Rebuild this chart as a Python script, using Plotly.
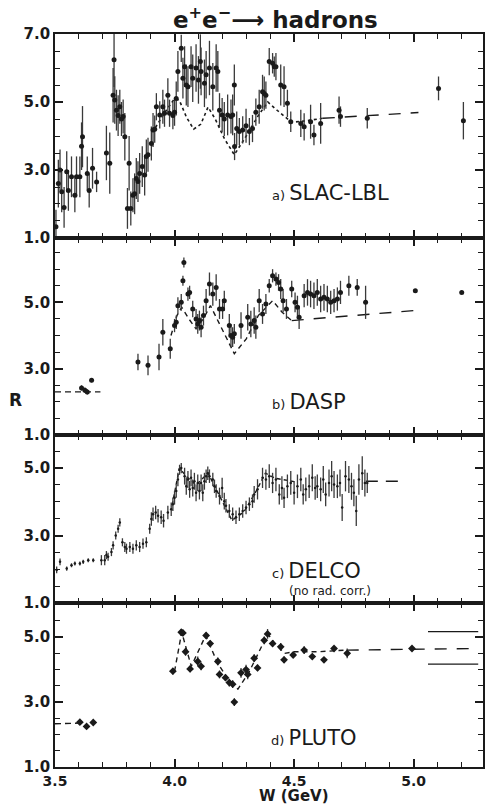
import plotly.graph_objects as go

# ---------------- a) SLAC-LBL ----------------
W_a = [3.504, 3.514, 3.521, 3.528, 3.538, 3.549, 3.556, 3.569, 3.583, 3.590,
       3.604, 3.611, 3.615, 3.635, 3.643, 3.657, 3.674, 3.715, 3.729, 3.743,
       3.747, 3.750, 3.757, 3.764, 3.771, 3.778, 3.785, 3.792, 3.803, 3.810,
       3.817, 3.826, 3.833, 3.840, 3.847, 3.854, 3.865, 3.875, 3.882, 3.889,
       3.903, 3.910, 3.917, 3.924, 3.938, 3.951, 3.958, 3.972, 3.979, 3.993,
       4.000, 4.007, 4.014, 4.028, 4.035, 4.042, 4.049, 4.056, 4.069, 4.076,
       4.090, 4.100, 4.108, 4.111, 4.125, 4.132, 4.146, 4.160, 4.174, 4.181,
       4.188, 4.199, 4.208, 4.222, 4.236, 4.243, 4.250, 4.251, 4.260, 4.271,
       4.285, 4.299, 4.313, 4.326, 4.340, 4.354, 4.368, 4.375, 4.382, 4.396,
       4.410, 4.417, 4.424, 4.444, 4.458, 4.472, 4.486, 4.528, 4.542, 4.569,
       4.583, 4.611, 4.688, 4.694, 4.806, 5.104, 5.208]
R_a = [1.33, 2.60, 3.00, 2.36, 1.90, 2.95, 2.40, 2.80, 2.26, 2.80,
       2.80, 3.70, 3.98, 2.90, 2.40, 3.05, 2.65, 3.50, 3.20, 5.20,
       6.24, 5.06, 4.76, 4.60, 4.86, 4.50, 4.57, 3.98, 1.87, 3.20,
       1.87, 2.26, 2.30, 2.75, 2.66, 2.90, 3.10, 2.85, 3.40, 3.45,
       3.78, 4.18, 4.20, 4.86, 4.62, 4.86, 4.67, 5.20, 4.67, 4.60,
       4.70, 5.10, 5.90, 6.58, 5.70, 6.04, 5.50, 5.45, 6.04, 5.70,
       6.00, 5.65, 6.19, 5.90, 5.55, 5.80, 6.00, 5.45, 6.00, 5.90,
       4.76, 4.62, 4.50, 4.62, 4.57, 4.62, 5.50, 3.69, 4.22, 4.13,
       4.18, 4.30, 4.13, 4.22, 4.70, 4.86, 5.30, 5.25, 5.20, 6.19,
       6.14, 6.04, 6.04, 5.50, 5.45, 4.96, 4.42, 4.37, 4.27, 4.42,
       4.03, 4.37, 4.76, 4.57, 4.52, 5.40, 4.45]
dR_a = [0.5, 0.7, 0.6, 0.6, 0.6, 0.6, 0.6, 0.6, 0.5, 0.6,
        0.6, 0.7, 0.9, 0.5, 0.5, 0.6, 0.3, 0.8, 0.9, 0.8,
        0.8, 0.7, 0.6, 0.6, 0.5, 0.5, 0.5, 0.7, 0.6, 0.8,
        0.5, 0.5, 0.6, 0.6, 0.6, 0.6, 0.6, 0.6, 0.5, 0.5,
        0.5, 0.5, 0.4, 0.4, 0.4, 0.5, 0.4, 0.5, 0.4, 0.4,
        0.4, 0.5, 0.6, 0.4, 0.6, 0.6, 0.6, 0.6, 0.6, 0.7,
        0.7, 0.7, 0.8, 0.7, 0.7, 0.7, 0.8, 0.7, 0.7, 0.6,
        0.5, 0.5, 0.5, 0.6, 0.5, 0.6, 0.6, 0.4, 0.5, 0.4,
        0.4, 0.5, 0.4, 0.4, 0.4, 0.5, 0.5, 0.5, 0.4, 0.4,
        0.3, 0.3, 0.4, 0.6, 0.6, 0.4, 0.3, 0.4, 0.4, 0.5,
        0.3, 0.6, 0.4, 0.3, 0.3, 0.35, 0.55]
curve_a_W = [3.92, 3.96, 4.00, 4.02, 4.05, 4.08, 4.11, 4.14, 4.17, 4.21,
             4.25, 4.30, 4.35, 4.39, 4.43, 4.49, 4.55, 4.62]
curve_a_R = [4.25, 4.70, 5.10, 5.05, 4.55, 4.20, 4.35, 4.85, 4.50, 3.90,
             3.45, 4.00, 4.60, 5.00, 4.75, 4.40, 4.45, 4.52]
tail_a_W = [4.62, 5.02]
tail_a_R = [4.52, 4.69]

# ---------------- b) DASP ----------------
W_b = [3.611, 3.625, 3.635, 3.653, 3.847, 3.889, 3.935, 3.951, 3.982, 4.000,
       4.007, 4.014, 4.028, 4.035, 4.039, 4.056, 4.063, 4.076, 4.090, 4.097,
       4.104, 4.111, 4.121, 4.132, 4.146, 4.160, 4.174, 4.188, 4.201, 4.208,
       4.229, 4.236, 4.243, 4.250, 4.278, 4.306, 4.319, 4.333, 4.340, 4.354,
       4.368, 4.382, 4.396, 4.410, 4.424, 4.435, 4.444, 4.454, 4.468, 4.490,
       4.504, 4.514, 4.521, 4.542, 4.556, 4.569, 4.583, 4.597, 4.611, 4.625,
       4.639, 4.653, 4.667, 4.681, 4.694, 4.729, 4.764, 4.799, 5.007, 5.201]
R_b = [2.42, 2.35, 2.30, 2.65, 3.20, 3.10, 3.35, 4.10, 3.60, 4.30,
       4.40, 4.90, 5.00, 5.65, 6.20, 5.25, 5.30, 4.80, 4.50, 4.35,
       4.45, 4.25, 4.60, 5.05, 5.55, 5.25, 5.45, 4.80, 4.80, 5.05,
       4.30, 4.00, 3.95, 4.05, 4.30, 4.55, 4.35, 4.45, 4.25, 5.05,
       4.65, 4.95, 5.50, 5.80, 5.70, 5.60, 5.40, 5.05, 4.80, 5.40,
       5.00, 4.85, 4.55, 5.20, 5.30, 5.25, 5.20, 5.30, 5.10, 5.15,
       5.10, 5.00, 5.05, 5.10, 5.30, 5.50, 5.45, 5.00, 5.35, 5.30]
dR_b = [0.08, 0.08, 0.08, 0.06, 0.25, 0.30, 0.40, 0.40, 0.30, 0.20,
        0.20, 0.25, 0.25, 0.15, 0.15, 0.20, 0.20, 0.25, 0.30, 0.30,
        0.30, 0.30, 0.30, 0.35, 0.35, 0.35, 0.40, 0.30, 0.30, 0.30,
        0.35, 0.35, 0.30, 0.30, 0.40, 0.40, 0.40, 0.40, 0.35, 0.35,
        0.30, 0.30, 0.20, 0.20, 0.20, 0.25, 0.30, 0.35, 0.30, 0.25,
        0.30, 0.35, 0.35, 0.35, 0.40, 0.40, 0.40, 0.40, 0.40, 0.40,
        0.40, 0.35, 0.35, 0.35, 0.35, 0.30, 0.25, 0.50, 0.05, 0.05]
curve_b_W = [3.985, 4.01, 4.03, 4.06, 4.09, 4.12, 4.15, 4.19, 4.25, 4.30,
             4.35, 4.41, 4.45, 4.49]
curve_b_R = [4.00, 4.60, 4.85, 4.50, 4.20, 4.50, 4.90, 4.30, 3.45, 3.90,
             4.60, 5.05, 4.70, 4.45]
tail_b_W = [4.49, 4.80, 5.00]
tail_b_R = [4.45, 4.62, 4.75]
low_b_W = [3.50, 3.69]
low_b_R = [2.30, 2.30]

# ---------------- c) DELCO ----------------
W_c = [3.507, 3.521, 3.549, 3.569, 3.583, 3.604, 3.618, 3.639, 3.660, 3.694,
       3.708, 3.715, 3.722, 3.736, 3.743, 3.754, 3.764, 3.771, 3.782, 3.792,
       3.799, 3.813, 3.826, 3.840, 3.854, 3.868, 3.882, 3.896, 3.903, 3.910,
       3.921, 3.931, 3.944, 3.954, 3.972, 3.986, 3.993, 4.000, 4.007, 4.014,
       4.021, 4.028, 4.042, 4.049, 4.056, 4.063, 4.069, 4.076, 4.083, 4.090,
       4.097, 4.104, 4.111, 4.118, 4.125, 4.132, 4.139, 4.146, 4.160, 4.167,
       4.174, 4.188, 4.199, 4.208, 4.215, 4.229, 4.243, 4.257, 4.271, 4.285,
       4.299, 4.313, 4.326, 4.333, 4.347, 4.368, 4.382, 4.396, 4.410, 4.424,
       4.438, 4.449, 4.458, 4.472, 4.486, 4.500, 4.514, 4.528, 4.538, 4.549,
       4.563, 4.576, 4.588, 4.597, 4.611, 4.622, 4.632, 4.646, 4.657, 4.667,
       4.681, 4.692, 4.701, 4.715, 4.729, 4.740, 4.750, 4.760, 4.771, 4.785,
       4.796, 4.806]
R_c = [1.98, 2.22, 2.02, 2.12, 2.17, 2.17, 2.22, 2.27, 2.27, 2.27,
       2.27, 2.42, 2.37, 2.51, 2.71, 3.00, 3.20, 3.39, 2.80, 2.66,
       2.61, 2.66, 2.61, 2.71, 2.66, 2.76, 2.80, 3.20, 3.49, 3.63,
       3.68, 3.59, 3.54, 3.44, 3.68, 3.78, 3.93, 4.12, 4.32, 4.66,
       4.95, 5.00, 4.76, 4.46, 4.66, 4.37, 4.71, 4.41, 4.61, 4.27,
       4.56, 4.32, 4.56, 4.27, 4.61, 4.76, 4.85, 4.76, 4.66, 4.46,
       4.32, 4.17, 4.41, 4.02, 3.88, 3.73, 3.63, 3.54, 3.63, 3.73,
       3.83, 3.93, 4.02, 4.22, 4.37, 4.71, 4.66, 4.76, 4.56, 4.66,
       4.22, 4.41, 4.12, 4.46, 4.56, 4.27, 4.46, 4.66, 4.22, 4.37,
       4.46, 4.71, 4.41, 4.46, 4.37, 4.66, 4.22, 4.56, 4.76, 4.51,
       4.46, 4.56, 3.83, 4.76, 4.66, 4.46, 4.27, 3.73, 4.66, 4.85,
       4.56, 4.56]
dR_c = [0.10, 0.10, 0.06, 0.06, 0.06, 0.06, 0.06, 0.06, 0.06, 0.15,
        0.15, 0.12, 0.12, 0.12, 0.12, 0.12, 0.12, 0.12, 0.12, 0.15,
        0.15, 0.15, 0.15, 0.15, 0.15, 0.15, 0.15, 0.15, 0.20, 0.20,
        0.20, 0.20, 0.20, 0.20, 0.20, 0.20, 0.20, 0.20, 0.20, 0.20,
        0.15, 0.15, 0.25, 0.25, 0.25, 0.25, 0.25, 0.25, 0.25, 0.25,
        0.25, 0.25, 0.25, 0.25, 0.25, 0.20, 0.20, 0.20, 0.20, 0.20,
        0.20, 0.25, 0.30, 0.25, 0.20, 0.20, 0.20, 0.20, 0.20, 0.20,
        0.20, 0.20, 0.20, 0.25, 0.30, 0.30, 0.30, 0.35, 0.30, 0.35,
        0.30, 0.35, 0.30, 0.35, 0.35, 0.35, 0.35, 0.35, 0.30, 0.35,
        0.35, 0.40, 0.35, 0.35, 0.35, 0.40, 0.35, 0.40, 0.45, 0.40,
        0.35, 0.40, 0.40, 0.45, 0.40, 0.40, 0.40, 0.45, 0.45, 0.50,
        0.40, 0.30]
curve_c_W = [3.99, 4.02, 4.05, 4.09, 4.14, 4.18, 4.24, 4.29, 4.34, 4.38,
             4.42, 4.50]
curve_c_R = [3.90, 5.00, 4.75, 4.50, 4.85, 4.30, 3.45, 3.70, 4.30, 4.85,
             4.70, 4.60]
tail_c_W = [4.80, 4.96]
tail_c_R = [4.61, 4.61]

# ---------------- d) PLUTO ----------------
W_d = [3.604, 3.632, 3.660, 3.993, 4.028, 4.035, 4.046, 4.065, 4.097, 4.111,
       4.132, 4.149, 4.181, 4.188, 4.213, 4.229, 4.243, 4.250, 4.278, 4.299,
       4.306, 4.333, 4.347, 4.375, 4.389, 4.410, 4.444, 4.458, 4.496, 4.542,
       4.576, 4.625, 4.667, 4.722, 4.993]
R_d = [2.38, 2.25, 2.37, 3.95, 5.15, 5.13, 4.55, 4.02, 4.25, 4.10,
       5.05, 4.80, 4.25, 3.85, 3.75, 3.60, 3.55, 3.00, 3.90, 4.00,
       3.85, 4.35, 4.05, 4.90, 5.10, 4.80, 4.70, 4.30, 4.45, 4.60,
       4.40, 4.30, 4.65, 4.50, 4.65]
dR_d = [0.04, 0.04, 0.04, 0.10, 0.10, 0.10, 0.12, 0.10, 0.15, 0.12,
        0.10, 0.10, 0.12, 0.12, 0.10, 0.12, 0.12, 0.12, 0.15, 0.15,
        0.15, 0.12, 0.10, 0.12, 0.15, 0.10, 0.12, 0.10, 0.05, 0.12,
        0.08, 0.06, 0.08, 0.15, 0.04]
curve_d_W = [4.00, 4.03, 4.07, 4.13, 4.18, 4.22, 4.265, 4.31, 4.35, 4.39,
             4.42, 4.46, 4.50, 4.60, 4.72]
curve_d_R = [3.95, 5.15, 4.10, 5.05, 4.20, 3.75, 3.40, 3.90, 4.50, 5.10,
             4.80, 4.50, 4.55, 4.55, 4.60]
tail_d_W = [4.72, 5.27]
tail_d_R = [4.60, 4.65]
low_d_W = [3.50, 3.60]
low_d_R = [2.33, 2.35]
band_d_W = [5.06, 5.27]
band_d_hi = [5.17, 5.17]
band_d_lo = [4.17, 4.17]

# ---------------- axes / panels ----------------
W_RANGE = [3.5, 5.29]
panels = [  # (y-axis name, domain, R range)
    ("y", [0.7217, 1.0], [1.0, 7.0]),
    ("y2", [0.4529, 0.7217], [1.0, 6.94]),
    ("y3", [0.2237, 0.4529], [1.0, 5.98]),
    ("y4", [0.0, 0.2237], [1.0, 6.05]),
]
INK = "#1a1a1a"
YTICKFONT = dict(family="DejaVu Sans", size=15, color=INK, weight="bold")
XTICKFONT = dict(family="DejaVu Sans", size=14, color=INK, weight="bold")

fig = go.Figure()


def data_trace(W, R, dR, k, size=5, symbol="circle", ex=None):
    fig.add_trace(go.Scatter(
        x=W, y=R, mode="markers", xaxis="x" if k == 1 else f"x{k}",
        yaxis="y" if k == 1 else f"y{k}",
        marker=dict(size=size, color=INK, symbol=symbol, line=dict(width=0)),
        error_y=dict(type="data", array=dR, visible=True, color="#3a3a3a",
                     thickness=1.3, width=0),
        error_x=dict(type="constant", value=ex, visible=ex is not None,
                     color=INK, thickness=1.3, width=0),
        showlegend=False, hoverinfo="skip"))


def line_trace(W, R, k, dash, width=1.4):
    fig.add_trace(go.Scatter(
        x=W, y=R, mode="lines", xaxis="x" if k == 1 else f"x{k}",
        yaxis="y" if k == 1 else f"y{k}",
        line=dict(color=INK, width=width, dash=dash),
        showlegend=False, hoverinfo="skip"))


# a) SLAC-LBL
line_trace(curve_a_W, curve_a_R, 1, "dot", 1.6)
line_trace(tail_a_W, tail_a_R, 1, "12px,10px")
data_trace(W_a, R_a, dR_a, 1, size=5)
# b) DASP
line_trace(low_b_W, low_b_R, 2, "6px,4px")
line_trace(curve_b_W, curve_b_R, 2, "5px,4px")
line_trace(tail_b_W, tail_b_R, 2, "12px,10px")
data_trace(W_b, R_b, dR_b, 2, size=5)
# c) DELCO
line_trace(curve_c_W, curve_c_R, 3, "4px,3px")
line_trace(tail_c_W, tail_c_R, 3, "12px,8px")
data_trace(W_c, R_c, dR_c, 3, size=2.5)
# d) PLUTO
line_trace(low_d_W, low_d_R, 4, "6px,4px")
line_trace(curve_d_W, curve_d_R, 4, "5px,4px")
line_trace(tail_d_W, tail_d_R, 4, "12px,10px")
line_trace(band_d_W, band_d_hi, 4, "solid", 1.2)
line_trace(band_d_W, band_d_lo, 4, "solid", 1.2)
data_trace(W_d, R_d, dR_d, 4, size=6, symbol="diamond", ex=0.006)

layout_axes = {}
for i, (yname, dom, rng) in enumerate(panels, start=1):
    xname = "xaxis" if i == 1 else f"xaxis{i}"
    yax = "yaxis" if i == 1 else f"yaxis{i}"
    layout_axes[xname] = dict(
        range=W_RANGE, domain=[0, 1], anchor=yname,
        showline=True, linecolor=INK, linewidth=1.6, mirror="ticks",
        ticks="inside", ticklen=8, tickwidth=1.5, tickcolor=INK,
        tick0=3.5, dtick=0.5, tickformat=".1f",
        showticklabels=(i == 4), tickfont=XTICKFONT, ticklabelstandoff=0,
        showgrid=False, zeroline=False,
        minor=dict(ticks="inside", ticklen=5, tickwidth=1.3, tickcolor=INK,
                   dtick=0.1, showgrid=False))
    layout_axes[yax] = dict(
        range=rng, domain=dom, anchor="x" if i == 1 else f"x{i}",
        showline=True, linecolor=INK, linewidth=1.6, mirror="ticks",
        ticks="inside", ticklen=8, tickwidth=1.5, tickcolor=INK,
        tick0=1.0, dtick=2.0, tickformat=".1f", tickfont=YTICKFONT,
        showgrid=False, zeroline=False,
        minor=dict(ticks="inside", ticklen=5, tickwidth=1.3, tickcolor=INK,
                   dtick=0.5, showgrid=False))

LABEL_FONT = dict(family="DejaVu Sans", size=21, color=INK)
annotations = [
    dict(text="e<sup>+</sup>e<sup>\u2212</sup>\u27f6 hadrons", xref="paper",
         yref="paper", x=0.516, y=1.0225, xanchor="center", yanchor="middle",
         showarrow=False,
         font=dict(family="DejaVu Sans", size=23, color=INK, weight="bold")),
    dict(text="R", xref="paper", yref="paper", x=-0.093, y=0.5007,
         xanchor="center", yanchor="middle", showarrow=False,
         font=dict(family="DejaVu Sans", size=17, color=INK, weight="bold")),
    dict(text="W (GeV)", xref="paper", yref="paper", x=0.558, y=-0.0395,
         xanchor="center", yanchor="middle", showarrow=False,
         font=dict(family="DejaVu Sans", size=15, color=INK, weight="bold")),
    dict(text="<span style='font-size:13px'>a) </span>SLAC-LBL", xref="x",
         yref="y", x=4.40, y=2.32, xanchor="left", yanchor="middle",
         showarrow=False, font=LABEL_FONT),
    dict(text="<span style='font-size:13px'>b) </span>DASP", xref="x2",
         yref="y2", x=4.40, y=2.0, xanchor="left", yanchor="middle",
         showarrow=False, font=LABEL_FONT),
    dict(text="<span style='font-size:13px'>c) </span>DELCO", xref="x3",
         yref="y3", x=4.40, y=1.95, xanchor="left", yanchor="middle",
         showarrow=False, font=LABEL_FONT),
    dict(text="(no rad. corr.)", xref="x3", yref="y3", x=4.47, y=1.36,
         xanchor="left", yanchor="middle", showarrow=False,
         font=dict(family="DejaVu Sans", size=12, color=INK)),
    dict(text="<span style='font-size:13px'>d) </span>PLUTO", xref="x4",
         yref="y4", x=4.395, y=1.9, xanchor="left", yanchor="middle",
         showarrow=False, font=LABEL_FONT),
]

fig.update_layout(
    width=490, height=807,
    margin=dict(l=55, r=5, t=34, b=40, pad=0),
    paper_bgcolor="white", plot_bgcolor="white",
    annotations=annotations,
    **layout_axes)

fig.write_html("out.html")
